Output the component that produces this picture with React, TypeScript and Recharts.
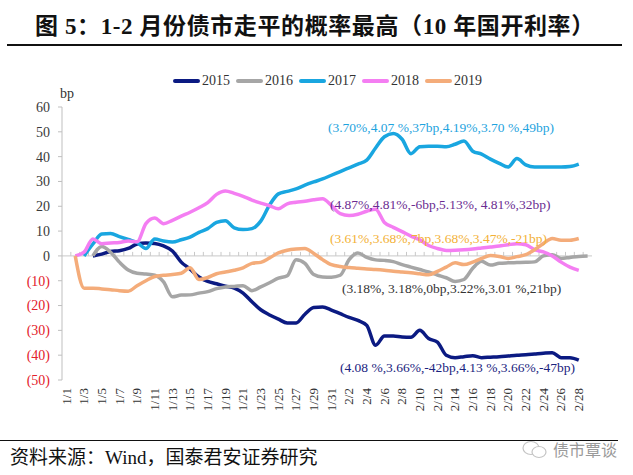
import { LineChart, Line, XAxis, YAxis, ReferenceLine } from 'recharts'

// 1/1 .. 2/29 (2016 is the only year with a 2/29 value)
const dates = [
  '1/1', '1/2', '1/3', '1/4', '1/5', '1/6', '1/7', '1/8', '1/9', '1/10',
  '1/11', '1/12', '1/13', '1/14', '1/15', '1/16', '1/17', '1/18', '1/19', '1/20',
  '1/21', '1/22', '1/23', '1/24', '1/25', '1/26', '1/27', '1/28', '1/29', '1/30',
  '1/31', '2/1', '2/2', '2/3', '2/4', '2/5', '2/6', '2/7', '2/8', '2/9',
  '2/10', '2/11', '2/12', '2/13', '2/14', '2/15', '2/16', '2/17', '2/18', '2/19',
  '2/20', '2/21', '2/22', '2/23', '2/24', '2/25', '2/26', '2/27', '2/28', '2/29',
]

const y2015 = [
  null, null, null, 0, 0.7, 1.8, 2.1, 3, 4.8, 5.2,
  5, 4, 2, -2.5, -5.3, -8.5, -10.3, -11.2, -12.2, -13,
  -15, -18.5, -21.7, -23.8, -25.5, -27, -27, -23.5, -20.8, -20.6,
  -21.8, -23.3, -24.8, -26, -28, -36, -32.3, -32.3, -32.7, -32.8,
  -30, -33.3, -34.7, -40, -41, -40.6, -40.2, -41, -40.8, -40.6,
  -40.3, -40, -39.8, -39.5, -39.2, -39, -41, -41, -42, null,
]
const y2016 = [
  null, null, null, 0, 3.8, 1.5, -2.5, -5.7, -7, -7.3,
  -7.8, -10.5, -16.5, -15.8, -15.7, -15, -14.4, -13.2, -12.5, -12.3,
  -12, -14, -12.5, -10.8, -9, -8, -1.5, -3, -7.5, -8.5,
  -8.6, -7.8, -1.5, 1.2, -0.6, -1.6, -1.8, -2.3, -3.5, -4.5,
  -5.5, -6.5, -7.7, -8.8, -10.3, -9.5, -5, -2.2, -3.7, -3,
  -2.8, -2.7, -2.6, -2.4, 0, 0.5, -1, -0.6, -0.2, 0,
]
const y2017 = [
  null, null, 0, 4.8, 8.8, 9, 7.8, 6.6, 5.4, 3,
  6.8, 6, 5.6, 6.5, 7.6, 9.5, 11, 13.5, 14.2, 11.3,
  10.6, 11, 14, 20.5, 25, 26, 27, 28.5, 29.8, 31,
  32.5, 34, 35.5, 37, 38.6, 43.5, 48, 49.3, 47, 41.2,
  44, 44.2, 44.2, 44, 45, 46.3, 42.2, 41, 39, 37.3,
  35.8, 39.2, 36.7, 35.8, 35.8, 35.8, 35.8, 36, 37, null,
]
const y2018 = [
  null, 0, 1.5, 6.8, 4.9, 5.2, 5.4, 6, 5.7, 13,
  15.3, 13, 14.3, 16, 17.6, 19.4, 21.5, 24.8, 26.2, 25.2,
  24, 22.5, 21.3, 20.2, 19, 21, 21.6, 22, 22.6, 23,
  20.3, 17, 16.3, 16.8, 18, 18.8, 13.5, 11.5, 9.8, 8,
  6.5, 4.2, 3, 2.2, 2.3, 2.5, 2.8, 3.2, 3.6, 4,
  4.5, 4.9, 4.5, 2.5, 1.6, 0, -2.5, -4.5, -5.8, null,
]
const y2019 = [
  null, 0, -13, -13, -13.3, -13.6, -14, -14.2, -12, -10,
  -8.3, -7.8, -7.5, -7, -4.8, -9.5, -8.7, -7.2, -6.5, -5.8,
  -4.8, -3, -2.6, -0.8, 1.2, 2.3, 2.8, 3, 1, -1.5,
  -3.5, -4.3, -4.7, -5, -5.3, -5.5, -5.8, -6.2, -6.5, -6.8,
  -7.2, -7.6, -6.2, -4.5, -2.8, -3.5, -2.5, -1, 0.2, -0.2,
  -1, -0.3, 0.5, 2.5, 5, 7, 6.3, 6.3, 7, null,
]

const yTicks = [-50, -40, -30, -20, -10, 0, 10, 20, 30, 40, 50, 60]
const years = ['2015', '2016', '2017', '2018', '2019']

const notes = [
  '(3.70%,4.07 %,37bp,4.19%,3.70 %,49bp)',
  '(4.87%,4.81%,-6bp,5.13%, 4.81%,32bp)',
  '(3.61%,3.68%,7bp,3.68%,3.47%,-21bp)',
  '(3.18%, 3.18%,0bp,3.22%,3.01 %,21bp)',
  '(4.08 %,3.66%,-42bp,4.13 %,3.66%,-47bp)',
]

const colors = ['#0b1a82', '#a6a6a6', '#19a6e0', '#f47ef2', '#f4ac7a']
const noteStyle = [
  { left: 328, top: 120, color: '#1ea3de' },
  { left: 330, top: 197, color: '#6a2c91' },
  { left: 330, top: 231, color: '#f3b136' },
  { left: 342, top: 281, color: '#333333' },
  { left: 340, top: 360, color: '#1a237e' },
]

const serif = '"Liberation Serif", "Times New Roman", "Noto Sans CJK SC", serif'

const data = dates.map((d, i) => ({
  date: d,
  s2015: y2015[i],
  s2016: y2016[i],
  s2017: y2017[i],
  s2018: y2018[i],
  s2019: y2019[i],
}))

function YTick({ x, y, payload }: any) {
  const v = payload.value as number
  return (
    <text x={x} y={y} dy="0.35em" textAnchor="end" fontSize={14} fontFamily={serif} fill={v < 0 ? '#e3202a' : '#3a3a3a'}>
      {v < 0 ? `(${-v})` : v}
    </text>
  )
}

function XTick({ x, y, payload }: any) {
  return (
    <g transform={`translate(${x},${y})`}>
      <text transform="rotate(-90)" textAnchor="end" dy="0.33em" fontSize={13} fontFamily={serif} fill="#333">
        {payload.value}
      </text>
    </g>
  )
}

// zero line with Excel style marks between categories
function ZeroAxis(props: any) {
  const { x1, y1, x2 } = props
  const step = (x2 - x1) / dates.length
  const marks = []
  for (let k = 1; k < dates.length; k++) {
    const x = x1 + k * step
    marks.push(<line key={k} x1={x} x2={x} y1={y1} y2={y1 - 4} stroke="#c8c8c8" strokeWidth={1} />)
  }
  return (
    <g>
      <line x1={x1} x2={x2} y1={y1} y2={y1} stroke="#c8c8c8" strokeWidth={1} />
      {marks}
    </g>
  )
}

export default function App() {
  return (
    <div style={{ position: 'absolute', left: 0, top: 0, width: 633, height: 475, background: '#fff', fontFamily: serif }}>
      <div style={{ position: 'absolute', left: 35, top: 12, fontSize: 23, letterSpacing: 0.6, fontWeight: 'bold', whiteSpace: 'nowrap', color: '#111', lineHeight: '30px' }}>
        图 5：1-2 月份债市走平的概率最高（10 年国开利率）
      </div>
      <div style={{ position: 'absolute', left: 7, top: 44, width: 615, height: 1.5, background: '#111' }} />

      <div style={{ position: 'absolute', left: 173, top: 72, display: 'flex', alignItems: 'center', fontSize: 14, color: '#333', lineHeight: '18px' }}>
        {years.map((yr, i) => (
          <div key={yr} style={{ display: 'flex', alignItems: 'center', marginRight: 6 }}>
            <div style={{ width: 27, height: 4, borderRadius: 2, background: colors[i], marginRight: 2 }} />
            <span>{yr}</span>
          </div>
        ))}
      </div>

      <div style={{ position: 'absolute', left: 60, top: 86, fontSize: 14, color: '#333' }}>bp</div>

      <div style={{ position: 'absolute', left: 0, top: 0 }}>
        <LineChart width={633} height={475} data={data} margin={{ top: 107, right: 41, bottom: 35, left: 12 }}>
          <XAxis
            dataKey="date"
            interval={1}
            axisLine={false}
            tickLine={false}
            tickSize={0}
            tickMargin={8}
            height={60}
            padding={{ left: 4.4, right: 4.4 }}
            tick={<XTick />}
          />
          <YAxis
            domain={[-50, 60]}
            ticks={yTicks}
            width={50}
            tickSize={4}
            tickMargin={8}
            axisLine={{ stroke: '#bfbfbf' }}
            tickLine={{ stroke: '#bfbfbf' }}
            tick={<YTick />}
          />
          <ReferenceLine y={0} shape={(p: any) => <ZeroAxis {...p} />} />
          {years.map((yr, i) => (
            <Line
              key={yr}
              type="monotone"
              dataKey={`s${yr}`}
              stroke={colors[i]}
              strokeWidth={3.5}
              dot={false}
              isAnimationActive={false}
            />
          ))}
        </LineChart>
      </div>

      {notes.map((t, i) => (
        <div key={i} style={{ position: 'absolute', left: noteStyle[i].left, top: noteStyle[i].top, color: noteStyle[i].color, fontSize: 13.5, lineHeight: '16px', whiteSpace: 'nowrap' }}>
          {t}
        </div>
      ))}

      <div style={{ position: 'absolute', left: 0, top: 440, width: 618, height: 1, background: '#111' }} />
      <div style={{ position: 'absolute', left: 10, top: 446, fontSize: 19, color: '#111', whiteSpace: 'nowrap', lineHeight: '24px' }}>
        资料来源：Wind，国泰君安证券研究
      </div>
      <svg style={{ position: 'absolute', left: 520, top: 439 }} width={30} height={22}>
        <ellipse cx={11} cy={9} rx={8} ry={6.5} fill="none" stroke="#c4c4c4" strokeWidth={1.2} />
        <ellipse cx={19} cy={13} rx={7} ry={5.5} fill="#fff" stroke="#c4c4c4" strokeWidth={1.2} />
      </svg>
      <div style={{ position: 'absolute', left: 553, top: 437, fontSize: 16, color: '#9a9a9a', whiteSpace: 'nowrap', fontFamily: '"Noto Sans CJK SC", sans-serif' }}>
        债市覃谈
      </div>
    </div>
  )
}
